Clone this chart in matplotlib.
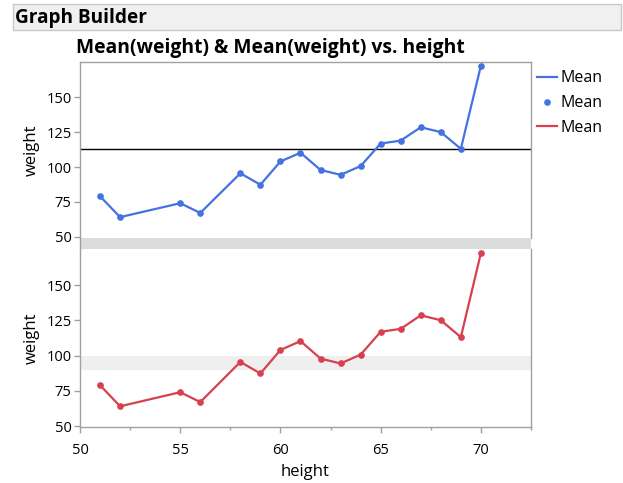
import matplotlib
matplotlib.use("Agg")
from matplotlib import pyplot as plt
from matplotlib.lines import Line2D
from matplotlib.patches import Rectangle

plt.rcParams["font.family"] = ["Open Sans", "DejaVu Sans"]

# mean weight by height
heights = [51, 52, 55, 56, 58, 59, 60, 61, 62, 63, 64, 65, 66, 67, 68, 69, 70]
mean_weight = [79, 64, 74, 67, 95.5, 87.3, 104, 110.3, 97.9, 94.4, 100.7,
               116.9, 119, 128.6, 125.1, 113.1, 172.8]
ref_line = 112.7
ref_band = (90, 100)
y_ticks = [50, 75, 100, 125, 150]
x_ticks = [50, 55, 60, 65, 70]

blue = "#4472e0"
red = "#d7404f"
frame = "#a0a0a0"

W, H = 623, 483
fig = plt.figure(figsize=(W / 100, H / 100), dpi=100)


def box(x0, y0, x1, y1):
    # pixel box (top-left origin) -> figure fraction rect
    return [x0 / W, 1 - y1 / H, (x1 - x0) / W, (y1 - y0) / H]


# header bar
fig.patches.append(Rectangle((13 / W, 1 - 30 / H), 608 / W, 26 / H, transform=fig.transFigure,
                             facecolor="#f0f0f0", edgecolor="#c8c8c8", linewidth=1))
fig.text(15 / W, 1 - 17.5 / H, "Graph Builder", fontsize=13.7, fontweight="bold", va="center", ha="left")
fig.text(76 / W, 1 - 48 / H, "Mean(weight) & Mean(weight) vs. height", fontsize=13.9,
         fontweight="bold", va="center", ha="left")

ax1 = fig.add_axes(box(80, 62, 531, 238))
ax2 = fig.add_axes(box(80, 249, 531, 427))

# gray separator between the two panels
fig.patches.append(Rectangle((80 / W, 1 - 249 / H), 451 / W, 11 / H, transform=fig.transFigure,
                             facecolor="#dcdcdc", edgecolor="none"))
fig.lines.append(Line2D([79.5 / W, 79.5 / W], [1 - 249 / H, 1 - 238 / H], transform=fig.transFigure,
                        color=frame, linewidth=1))

ax1.plot(heights, mean_weight, color=blue, linewidth=1.6, marker="o", markersize=3.8, zorder=3)
ax1.axhline(ref_line, color="black", linewidth=1, zorder=2)
ax1.set_ylim(49, 175.5)

ax2.axhspan(ref_band[0], ref_band[1], color="#efefef", linewidth=0, zorder=0)
ax2.plot(heights, mean_weight, color=red, linewidth=1.6, marker="o", markersize=3.8, zorder=3)
ax2.set_ylim(49.3, 175.7)

for ax in (ax1, ax2):
    ax.set_xlim(50, 72.5)
    ax.set_yticks(y_ticks)
    ax.set_ylabel("weight", fontsize=12, labelpad=5)
    for s in ax.spines.values():
        s.set_color(frame)
        s.set_linewidth(1)
    ax.tick_params(axis="y", length=4.5, width=1, color=frame, labelsize=10.5, pad=1.5)

ax1.spines["bottom"].set_visible(False)
ax1.tick_params(axis="x", bottom=False, labelbottom=False)
ax2.spines["top"].set_visible(False)
ax2.set_xticks(x_ticks)
ax2.set_xticks([52.5, 57.5, 62.5, 67.5, 72.5], minor=True)
ax2.tick_params(axis="x", which="major", length=4.5, width=1, color=frame, labelsize=10.5, pad=7)
ax2.tick_params(axis="x", which="minor", length=2.5, width=1, color=frame)
ax2.set_xlabel("height", fontsize=12, labelpad=4)

handles = [
    Line2D([], [], color=blue, linewidth=1.6),
    Line2D([], [], color=blue, linestyle="none", marker="o", markersize=3.8),
    Line2D([], [], color=red, linewidth=1.6),
]
fig.legend(handles, ["Mean", "Mean", "Mean"], loc="upper left", bbox_to_anchor=(534 / W, 1 - 67 / H),
           frameon=False, fontsize=11.5, handlelength=1.25, handletextpad=0.2, labelspacing=0.56,
           borderaxespad=0, borderpad=0.2)

fig.savefig("out.png", dpi=100)
